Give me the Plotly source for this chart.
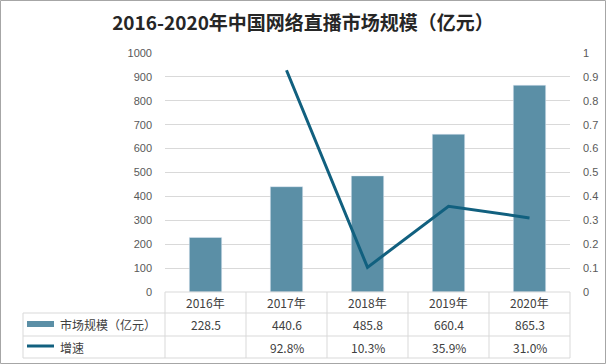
import plotly.graph_objects as go

years = ["2016年", "2017年", "2018年", "2019年", "2020年"]
market = [228.5, 440.6, 485.8, 660.4, 865.3]
growth = [None, 0.928, 0.103, 0.359, 0.310]
market_labels = ["228.5", "440.6", "485.8", "660.4", "865.3"]
growth_labels = ["", "92.8%", "10.3%", "35.9%", "31.0%"]
left_ticks = [0, 100, 200, 300, 400, 500, 600, 700, 800, 900, 1000]
right_ticks = [0, 0.1, 0.2, 0.3, 0.4, 0.5, 0.6, 0.7, 0.8, 0.9, 1]
right_labels = ["0", "0.1", "0.2", "0.3", "0.4", "0.5", "0.6", "0.7", "0.8", "0.9", "1"]

W, H = 606, 364
x0, x1 = 165, 570
ytop, ybot = 53, 292
BAR = "#5B8FA6"
LINE = "#11607F"
GRID = "#D9D9D9"
TXT = "#595959"

fig = go.Figure()
fig.add_trace(go.Bar(x=years, y=market, marker_color=BAR, width=0.4,
                     name="市场规模（亿元）", yaxis="y"))
fig.add_trace(go.Scatter(x=years, y=growth, mode="lines", line=dict(color=LINE, width=3),
                         name="增速", yaxis="y2", connectgaps=False))

tickfont = dict(size=11, color=TXT, family="Liberation Sans, Arial")
fig.update_layout(
    width=W, height=H,
    margin=dict(l=0, r=0, t=0, b=0, autoexpand=False),
    paper_bgcolor="white", plot_bgcolor="white",
    showlegend=False,
    font=dict(family="Noto Sans CJK SC, sans-serif", color=TXT, size=11),
    title=dict(text="<b>2016-2020年中国网络直播市场规模（亿元）</b>", x=0.5, xanchor="center",
               y=1 - 23 / H, yanchor="middle",
               font=dict(family="Noto Sans CJK SC, sans-serif", size=19, color="#262626")),
    xaxis=dict(domain=[x0 / W, x1 / W], showticklabels=False, showgrid=False,
               showline=False, zeroline=False, ticks=""),
    yaxis=dict(domain=[(H - ybot) / H, (H - ytop) / H], range=[0, 1000], tickvals=left_ticks,
               showgrid=True, gridcolor=GRID, zeroline=False, showline=False, ticks="",
               tickfont=tickfont, ticklabelstandoff=12),
    yaxis2=dict(overlaying="y", side="right", range=[0, 1], tickvals=right_ticks,
                ticktext=right_labels,
                showgrid=False, zeroline=False, showline=False, ticks="",
                tickfont=tickfont, ticklabelstandoff=12),
)

shapes = []
annos = []
shapes.append(dict(type="rect", xref="paper", yref="paper", x0=0.5 / W, x1=1 - 0.5 / W, y0=0.5 / H, y1=1 - 0.5 / H,
                   line=dict(color="#A6A6A6", width=1), layer="below"))

def px(x):
    return x / W

def py(y):
    return 1 - y / H

TL = "#D9D9D9"
cols = [x0 + i * (x1 - x0) / 5 for i in range(6)]
r0, r1, r2, r3 = ybot, 313, 336, 358
lx = 23
shapes.append(dict(type="line", xref="paper", yref="paper", x0=px(x0), x1=px(x1), y0=py(r0), y1=py(r0), line=dict(color=TL, width=1)))
for r in (r1, r2, r3):
    shapes.append(dict(type="line", xref="paper", yref="paper", x0=px(lx), x1=px(x1), y0=py(r), y1=py(r), line=dict(color=TL, width=1)))
for c in cols:
    shapes.append(dict(type="line", xref="paper", yref="paper", x0=px(c), x1=px(c), y0=py(r0), y1=py(r3), line=dict(color=TL, width=1)))
shapes.append(dict(type="line", xref="paper", yref="paper", x0=px(lx), x1=px(lx), y0=py(r1), y1=py(r3), line=dict(color=TL, width=1)))

shapes.append(dict(type="rect", xref="paper", yref="paper", x0=px(27), x1=px(54), y0=py(327), y1=py(321),
                   fillcolor=BAR, line=dict(width=0)))
shapes.append(dict(type="line", xref="paper", yref="paper", x0=px(27), x1=px(54), y0=py(346), y1=py(346),
                   line=dict(color=LINE, width=3)))

tfont = dict(size=12, color="#404040", family="Noto Sans CJK SC, sans-serif")
annos.append(dict(text="市场规模（亿元）", xref="paper", yref="paper", x=px(58), y=py((r1 + r2) / 2),
                  xanchor="left", yanchor="middle", showarrow=False, font=tfont))
annos.append(dict(text="增速", xref="paper", yref="paper", x=px(58), y=py((r2 + r3) / 2),
                  xanchor="left", yanchor="middle", showarrow=False, font=tfont))
for i in range(5):
    cx = (cols[i] + cols[i + 1]) / 2
    annos.append(dict(text=years[i], xref="paper", yref="paper", x=px(cx), y=py((r0 + r1) / 2),
                      xanchor="center", yanchor="middle", showarrow=False, font=tfont))
    annos.append(dict(text=market_labels[i], xref="paper", yref="paper", x=px(cx), y=py((r1 + r2) / 2),
                      xanchor="center", yanchor="middle", showarrow=False, font=tfont))
    if growth_labels[i]:
        annos.append(dict(text=growth_labels[i], xref="paper", yref="paper", x=px(cx), y=py((r2 + r3) / 2),
                          xanchor="center", yanchor="middle", showarrow=False, font=tfont))

fig.update_layout(shapes=shapes, annotations=annos)
fig.write_html("out.html", config={"displayModeBar": False},
               post_script="document.body.style.margin='0';document.body.style.overflow='hidden';")
